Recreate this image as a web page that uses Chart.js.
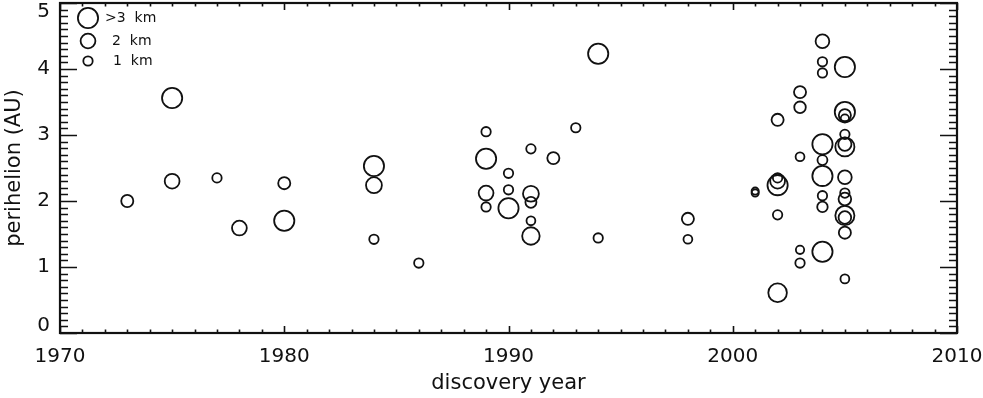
<!DOCTYPE html>
<html lang="en">
<head>
    <meta charset="UTF-8" />
    <title>perihelion vs discovery year</title>
    <script src="https://cdn.jsdelivr.net/npm/chart.js@4.4.1/dist/chart.umd.min.js"></script>
    <style>
        html, body { margin: 0; padding: 0; background: #fff; }
        #wrap { width: 983px; height: 398px; }
    </style>
</head>
<body>
    <div id="wrap"><canvas id="plot" width="983" height="398"></canvas></div>
<script>
    // discovery year / perihelion (AU) / diameter (km) of each object
    const years = [
        1973, 1975, 1975, 1977, 1978, 1980, 1980,
        1984, 1984, 1984, 1986,
        1989, 1989, 1989, 1989, 1990, 1990, 1990,
        1991, 1991, 1991, 1991, 1991, 1992, 1993, 1994, 1994,
        1998, 1998, 2001, 2001,
        2002, 2002, 2002, 2002, 2002, 2002,
        2003, 2003, 2003, 2003, 2003,
        2004, 2004, 2004, 2004, 2004, 2004, 2004, 2004, 2004,
        2005, 2005, 2005, 2005, 2005, 2005, 2005, 2005, 2005, 2005, 2005, 2005, 2005, 2005
    ];
    const perihelion = [
        2.00, 3.56, 2.30, 2.35, 1.59, 2.27, 1.70,
        2.53, 2.24, 1.42, 1.06,
        3.05, 2.64, 2.12, 1.91, 2.42, 2.17, 1.89,
        2.79, 2.11, 1.98, 1.70, 1.47, 2.65, 3.11, 4.23, 1.44,
        1.73, 1.42, 2.15, 2.12,
        3.23, 2.35, 2.30, 2.24, 1.79, 0.61,
        3.65, 3.42, 2.67, 1.26, 1.06,
        4.42, 4.11, 3.94, 2.86, 2.62, 2.38, 2.08, 1.91, 1.23,
        4.03, 3.35, 3.30, 3.25, 3.01, 2.82, 2.86, 2.36, 2.12, 2.03, 1.78, 1.75, 1.52, 0.82
    ];
    const diameterKm = [
        1.5, 3, 2, 1, 2, 1.5, 3,
        3, 2.2, 1, 1,
        1, 3, 2, 1, 1, 1, 3,
        1, 2.2, 1.3, 0.9, 2.5, 1.5, 1, 3, 1,
        1.5, 0.9, 0.6, 0.6,
        1.5, 1, 2, 3, 1, 2.7,
        1.5, 1.4, 0.9, 0.8, 1,
        1.8, 1, 1, 3, 1.1, 3, 1, 1.2, 3,
        3, 3, 1.5, 0.8, 1, 2.8, 1.7, 1.8, 1, 1.6, 2.8, 1.6, 1.5, 0.9
    ];

    const legendLabels = ['>3  km', '2  km', '1  km'];
    const legendSizes = [3, 2, 1];

    const ink = '#111';
    // circle radius in pixels for a diameter in km
    const sizeToRadius = (d) => 2 + 2.7 * d;

    const points = years.map((y, i) => ({ x: y, y: perihelion[i] }));

    // IDL style frame with inward ticks, y labels kept inside the frame, size legend
    const framePlugin = {
        id: 'frame',
        afterDraw(chart) {
            const c = chart.ctx;
            const a = chart.chartArea;
            const xs = chart.scales.x;
            const ys = chart.scales.y;
            c.save();
            c.strokeStyle = ink;
            c.lineWidth = 1.6;
            for (let v = xs.min; v <= xs.max; v++) {
                const px = Math.round(xs.getPixelForValue(v)) + 0.5;
                const len = v % 10 === 0 ? 7 : 3.5;
                c.beginPath();
                c.moveTo(px, a.bottom); c.lineTo(px, a.bottom - len);
                c.moveTo(px, a.top); c.lineTo(px, a.top + len);
                c.stroke();
            }
            for (let i = 0; i <= 50; i++) {
                const py = Math.round(ys.getPixelForValue(i / 10)) + 0.5;
                const len = i % 10 === 0 ? 17 : 8;
                c.beginPath();
                c.moveTo(a.left, py); c.lineTo(a.left + len, py);
                c.moveTo(a.right, py); c.lineTo(a.right - len, py);
                c.stroke();
            }
            c.lineWidth = 2.2;
            c.strokeRect(a.left, a.top, a.right - a.left, a.bottom - a.top);

            // y tick labels (end labels pulled inside like IDL does)
            c.fillStyle = ink;
            c.font = '20px "DejaVu Sans"';
            c.textAlign = 'right';
            c.textBaseline = 'middle';
            ys.ticks.forEach((t) => {
                const py = Math.min(Math.max(ys.getPixelForValue(t.value), a.top + 9), a.bottom - 7);
                c.fillText(String(t.value), a.left - 10, py);
            });

            // legend
            const rowY = [18, 41, 61];
            const textX = [105, 112, 113];
            c.lineWidth = 1.8;
            c.font = '14px "DejaVu Sans"';
            c.textAlign = 'left';
            legendLabels.forEach((lab, i) => {
                c.beginPath();
                c.arc(88, rowY[i], sizeToRadius(legendSizes[i]), 0, Math.PI * 2);
                c.stroke();
                c.fillText(lab, textX[i], rowY[i]);
            });
            c.restore();
        }
    };

    new Chart(document.getElementById('plot'), {
        type: 'scatter',
        data: {
            datasets: [{
                data: points,
                pointRadius: (ctx) => sizeToRadius(diameterKm[ctx.dataIndex]),
                pointHoverRadius: (ctx) => sizeToRadius(diameterKm[ctx.dataIndex]),
                pointBackgroundColor: 'rgba(0,0,0,0)',
                pointBorderColor: ink,
                pointBorderWidth: 1.8,
                clip: false
            }]
        },
        options: {
            responsive: false,
            animation: false,
            layout: { autoPadding: false, padding: { top: 3, right: 26, bottom: 0, left: 0 } },
            plugins: { legend: false, tooltip: { enabled: false } },
            scales: {
                x: {
                    type: 'linear',
                    min: 1970,
                    max: 2010,
                    grid: { display: false, drawTicks: false },
                    border: { display: false },
                    ticks: {
                        stepSize: 10,
                        padding: 12,
                        color: ink,
                        font: { family: 'DejaVu Sans', size: 20 },
                        callback: (v) => String(v)
                    },
                    title: {
                        display: true,
                        text: 'discovery year',
                        color: ink,
                        font: { family: 'DejaVu Sans', size: 21 },
                        padding: { top: 0, bottom: 2 }
                    },
                    afterFit(scale) {
                        scale.height = 65;
                        scale.paddingLeft = 0;
                        scale.paddingRight = 0;
                    }
                },
                y: {
                    min: 0,
                    max: 5,
                    grid: { display: false, drawTicks: false },
                    border: { display: false },
                    ticks: { stepSize: 1, display: false },
                    title: {
                        display: true,
                        text: 'perihelion (AU)',
                        color: ink,
                        font: { family: 'DejaVu Sans', size: 21 },
                        padding: { top: 2, bottom: 0 }
                    },
                    afterFit(scale) {
                        scale.width = 60;
                        scale.paddingTop = 0;
                        scale.paddingBottom = 0;
                    }
                }
            }
        },
        plugins: [framePlugin]
    });
</script>
</body>
</html>
